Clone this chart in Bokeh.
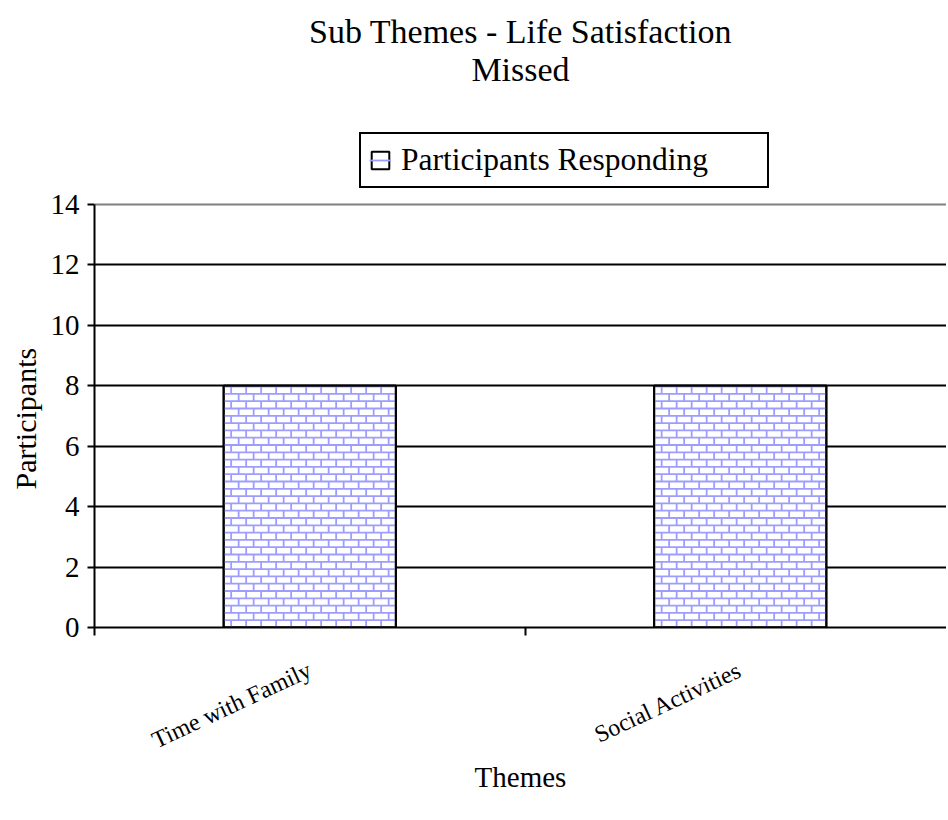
from bokeh.plotting import figure
from bokeh.models import Range1d, FixedTicker, Legend, LegendItem, Title, Grid
from bokeh.embed import file_html
from bokeh.resources import INLINE
import numpy as np
import math

# ---- data ----
categories = ["Time with Family", "Social Activities"]
participants = [8, 8]
series_name = "Participants Responding"
y_ticks = [0, 2, 4, 6, 8, 10, 12, 14]
title_lines = ["Sub Themes - Life Satisfaction", "Missed"]
x_title = "Themes"
y_title = "Participants"

FONT = "Liberation Serif"

# category slot positions (one unit per category)
xs = [i + 0.5 for i in range(len(categories))]
slot_bounds = [i for i in range(len(categories) + 1)]
bar_w = 0.4

frame_w = 852
slot_px = 430.5
axis_px = 423            # pixel height of the 0..14 axis
frame_h = 540            # frame extends above 14 to host the legend
y_end = y_ticks[-1] * frame_h / axis_px

p = figure(frame_width=frame_w, frame_height=frame_h,
           output_backend="svg", toolbar_location=None,
           x_range=Range1d(0, frame_w / slot_px), y_range=Range1d(y_ticks[0], y_end),
           title_location=None, min_border_left=94, min_border_right=0,
           min_border_top=87, min_border_bottom=20)
p.outline_line_color = None
p.background_fill_color = "white"
p.border_fill_color = "white"
p.xgrid.visible = False
p.ygrid.visible = False

# gridlines
g1 = Grid(dimension=1, ticker=FixedTicker(ticks=y_ticks[:-1]),
          grid_line_color="black", grid_line_width=2)
g2 = Grid(dimension=1, ticker=FixedTicker(ticks=y_ticks[-1:]),
          grid_line_color="#808080", grid_line_width=2)
p.add_layout(g1, "center")
p.add_layout(g2, "center")

# bars: white fill
r = p.vbar(x=xs, top=participants, width=bar_w, bottom=0,
           fill_color="white", line_color="black", line_width=2)

# brick texture inside each bar (derived from bar geometry)
row_h = 7.3 / (axis_px / y_ticks[-1])
brick_w = 15.0 / slot_px
sx0, sy0, sx1, sy1 = [], [], [], []
for xc, top in zip(xs, participants):
    left, right = xc - bar_w / 2, xc + bar_w / 2
    n_rows = int(np.ceil(top / row_h))
    for k in range(n_rows):
        y0 = k * row_h
        y1 = min((k + 1) * row_h, top)
        if k > 0:
            sx0.append(left); sx1.append(right); sy0.append(y0); sy1.append(y0)
        off = (k % 2) * brick_w / 2 + brick_w / 2
        for xv in np.arange(left + off, right, brick_w):
            sx0.append(xv); sx1.append(xv); sy0.append(y0); sy1.append(y1)
seg = p.segment(x0=sx0, y0=sy0, x1=sx1, y1=sy1, line_color="#9d9dff", line_width=1.8)

# outline on top
p.vbar(x=xs, top=participants, width=bar_w, bottom=0,
       fill_color=None, line_color="black", line_width=2)

# y axis
ya = p.yaxis[0]
ya.ticker = FixedTicker(ticks=y_ticks)
ya.bounds = (y_ticks[0], y_ticks[-1])
ya.axis_line_width = 2
ya.major_tick_line_width = 2
ya.major_tick_in = 0
ya.major_tick_out = 7
ya.minor_tick_line_color = None
ya.major_label_text_font = FONT
ya.major_label_text_font_size = "29px"
ya.major_label_text_color = "black"
ya.major_label_standoff = 8

# y axis title, placed along the 0..14 part of the axis
p.add_layout(Title(text=y_title, align="left", offset=138, text_font=FONT,
                   text_font_size="30px", text_font_style="normal",
                   text_color="black", standoff=12), "left")

# x axis
xa = p.xaxis[0]
xa.ticker = FixedTicker(ticks=xs, minor_ticks=slot_bounds)
xa.major_label_overrides = {x: c for x, c in zip(xs, categories)}
xa.axis_line_width = 2
xa.major_tick_line_color = None
xa.minor_tick_line_width = 2
xa.minor_tick_in = 0
xa.minor_tick_out = 8
xa.major_label_orientation = math.radians(25)
xa.major_label_text_font = FONT
xa.major_label_text_font_size = "24px"
xa.major_label_text_color = "black"
xa.major_label_standoff = 33
xa.axis_label = x_title
xa.axis_label_text_font = FONT
xa.axis_label_text_font_size = "29px"
xa.axis_label_text_font_style = "normal"
xa.axis_label_text_color = "black"
xa.axis_label_standoff = -7

# legend inside the upper part of the frame
legend = Legend(items=[LegendItem(label=series_name, renderers=[r, seg])],
                location=(265, 439), orientation="vertical",
                label_text_font=FONT, label_text_font_size="31.5px",
                label_text_color="black",
                glyph_width=22, glyph_height=22, label_standoff=10,
                padding=8, margin=0, label_width=358,
                border_line_color="black", border_line_width=2, border_line_alpha=1,
                background_fill_color="white", background_fill_alpha=1)
p.add_layout(legend, "center")

# title lines (first added sits next to the frame)
p.add_layout(Title(text=title_lines[1], align="center", text_font=FONT,
                   text_font_size="34px", text_font_style="normal",
                   text_color="black", standoff=0), "above")
p.add_layout(Title(text=title_lines[0], align="center", text_font=FONT,
                   text_font_size="34px", text_font_style="normal",
                   text_color="black", standoff=-2), "above")

open("out.html", "w").write(file_html(p, INLINE))
